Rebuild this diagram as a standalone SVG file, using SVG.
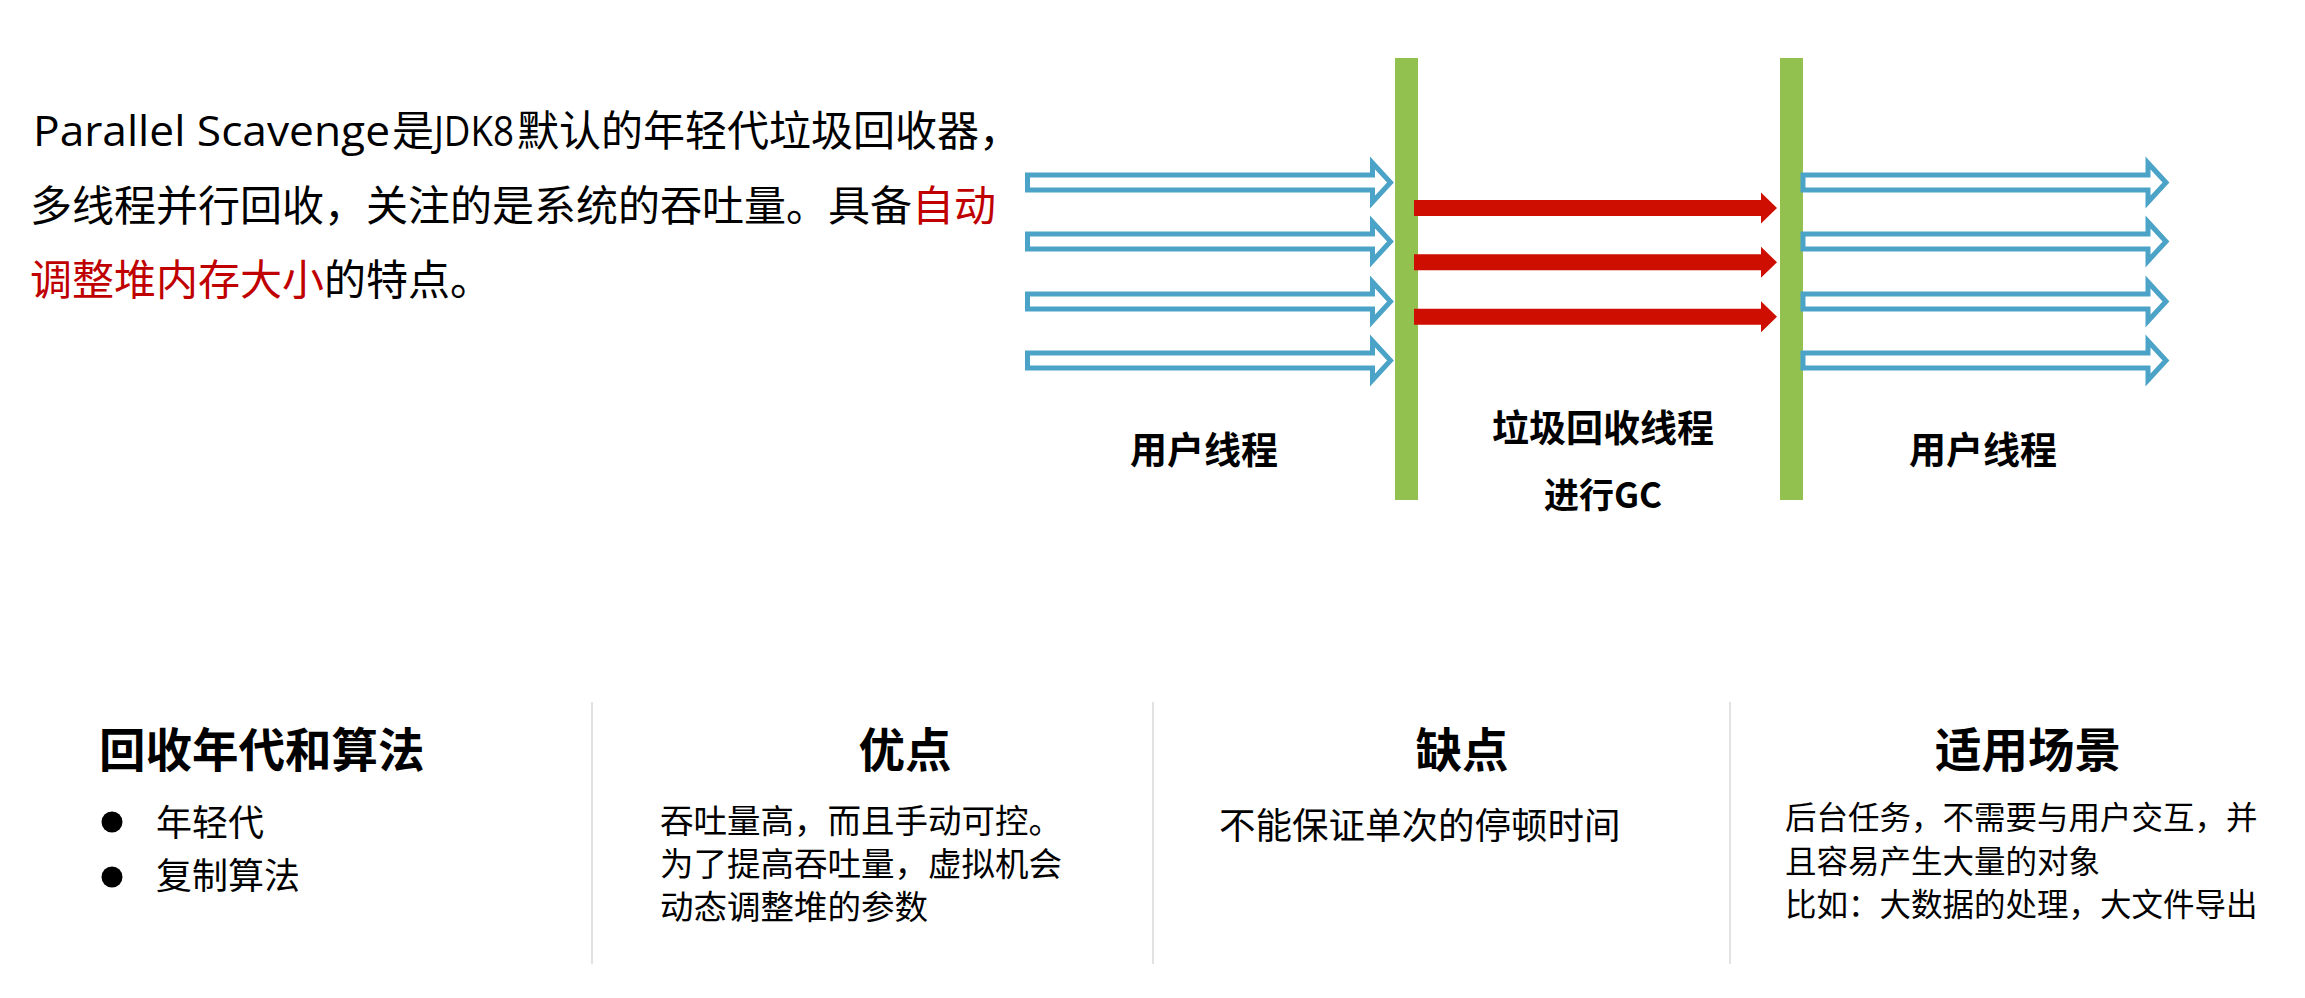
<svg xmlns="http://www.w3.org/2000/svg" width="2305" height="998" viewBox="0 0 2305 998">
<style>
  .cjk { font-family: "Noto Sans CJK SC", "Noto Sans", sans-serif; fill: #000; }
  .lat { font-family: "Open Sans", "Noto Sans", sans-serif; }
  .para { font-size: 42px; }
  .red { fill: #C00000; }
  .lbl { font-size: 37px; font-weight: 700; text-anchor: middle; }
  .head { font-size: 46.5px; font-weight: 700; }
  .mid { text-anchor: middle; }
  .pros { font-size: 33.5px; }
  .usage { font-size: 31.5px; }
  .bar { fill: #92C150; }
  .sep { stroke: #D9D9D9; stroke-width: 1.5; }
  .ua { fill: #FFFFFF; stroke: #4BA3C7; stroke-width: 5; stroke-linejoin: miter; }
  .ga { fill: #CE0E00; }
</style>
<defs>
  <path id="userArrow" d="M0,-7.5 H345 V-19.5 L363,0 L345,19.5 V7.5 H0 Z"/>
  <path id="gcArrow" d="M0,-8 H347 V-15.5 L363,0 L347,15.5 V8 H0 Z"/>
</defs>
<rect width="2305" height="998" fill="#FFFFFF"/>

<g id="intro">
  <text class="cjk para" y="146"><tspan class="lat" x="33" textLength="357" lengthAdjust="spacingAndGlyphs">Parallel Scavenge</tspan><tspan x="392">是</tspan><tspan class="lat" x="434" textLength="80" lengthAdjust="spacingAndGlyphs">JDK8</tspan><tspan x="517">默认的年轻代垃圾回收器，</tspan></text>
  <text class="cjk para" x="30" y="221">多线程并行回收，关注的是系统的吞吐量。具备<tspan class="red">自动</tspan></text>
  <text class="cjk para" x="30" y="295"><tspan class="red">调整堆内存大小</tspan>的特点。</text>
</g>

<g id="barriers">
  <rect id="gc-start" class="bar" x="1395" y="58" width="23" height="442"/>
  <rect id="gc-end" class="bar" x="1780" y="58" width="23" height="442"/>
</g>

<g id="connectors">
  <g id="user-threads-before">
    <use href="#userArrow" class="ua" transform="translate(1027.5,182.5)"/>
    <use href="#userArrow" class="ua" transform="translate(1027.5,241.5)"/>
    <use href="#userArrow" class="ua" transform="translate(1027.5,301.5)"/>
    <use href="#userArrow" class="ua" transform="translate(1027.5,360.5)"/>
  </g>
  <g id="gc-threads">
    <use href="#gcArrow" class="ga" transform="translate(1414,208)"/>
    <use href="#gcArrow" class="ga" transform="translate(1414,262.3)"/>
    <use href="#gcArrow" class="ga" transform="translate(1414,316.7)"/>
  </g>
  <g id="user-threads-after">
    <use href="#userArrow" class="ua" transform="translate(1803,182.5)"/>
    <use href="#userArrow" class="ua" transform="translate(1803,241.5)"/>
    <use href="#userArrow" class="ua" transform="translate(1803,301.5)"/>
    <use href="#userArrow" class="ua" transform="translate(1803,360.5)"/>
  </g>
</g>

<g id="labels">
  <text id="lbl-user-1" class="cjk lbl" x="1204" y="464">用户线程</text>
  <text id="lbl-gc" class="cjk lbl" x="1603" y="442">垃圾回收线程</text>
  <text id="lbl-gc2" class="cjk lbl" x="1603" y="508" style="font-size:35px">进行GC</text>
  <text id="lbl-user-2" class="cjk lbl" x="1983" y="464">用户线程</text>
</g>

<g id="separators">
  <line class="sep" x1="592" y1="702" x2="592" y2="964"/>
  <line class="sep" x1="1153" y1="702" x2="1153" y2="964"/>
  <line class="sep" x1="1730" y1="702" x2="1730" y2="964"/>
</g>

<g id="col-algorithm">
  <text class="cjk head" x="99" y="767">回收年代和算法</text>
  <circle cx="112" cy="822" r="10.5" fill="#000"/>
  <circle cx="112" cy="877" r="10.5" fill="#000"/>
  <text class="cjk" x="156" y="836" style="font-size:36px">年轻代</text>
  <text class="cjk" x="156" y="889" style="font-size:36px">复制算法</text>
</g>

<g id="col-pros">
  <text class="cjk head mid" x="905" y="767">优点</text>
  <text class="cjk pros" x="660" y="833">吞吐量高，而且手动可控。</text>
  <text class="cjk pros" x="660" y="876">为了提高吞吐量，虚拟机会</text>
  <text class="cjk pros" x="660" y="919">动态调整堆的参数</text>
</g>

<g id="col-cons">
  <text class="cjk head mid" x="1462" y="767">缺点</text>
  <text class="cjk" x="1219" y="839" style="font-size:36.5px">不能保证单次的停顿时间</text>
</g>

<g id="col-usage">
  <text class="cjk head mid" x="2028" y="767">适用场景</text>
  <text class="cjk usage" x="1785" y="829">后台任务，不需要与用户交互，并</text>
  <text class="cjk usage" x="1785" y="873">且容易产生大量的对象</text>
  <text class="cjk usage" x="1785" y="916">比如：大数据的处理，大文件导出</text>
</g>
</svg>
